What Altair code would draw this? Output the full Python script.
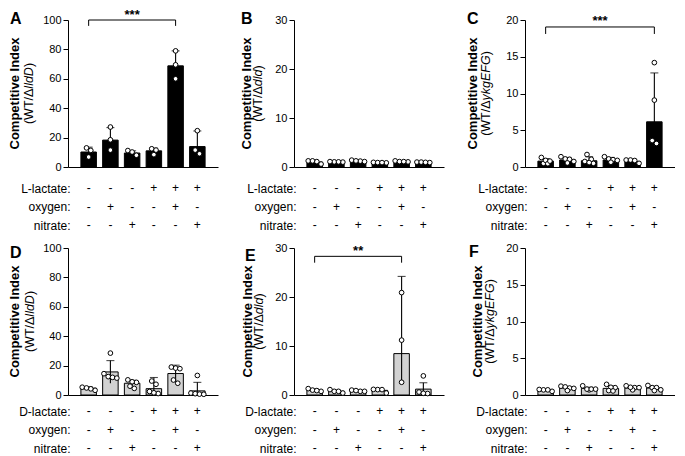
import altair as alt
import pandas as pd

FONT = "Liberation Sans, Arial, Helvetica, sans-serif"

# ---------------- data ----------------
groups = [0, 1, 2, 3, 4, 5]
cond_row1 = ["L-lactate:", "oxygen:", "nitrate:"]
cond_row2 = ["D-lactate:", "oxygen:", "nitrate:"]
lactate_sign = ["-", "-", "-", "+", "+", "+"]
oxygen_sign = ["-", "+", "-", "-", "+", "-"]
nitrate_sign = ["-", "-", "+", "-", "-", "+"]

A_mean = [10.2, 18.3, 9.5, 11.0, 68.8, 13.9]
A_hi = [13.5, 26.8, 11.0, 12.8, 79.0, 24.5]
A_lo = [7.0, 9.8, 8.0, 9.2, 58.6, 3.3]
A_pts = [[13.0, 11.3, 6.8], [27.2, 18.5, 11.5], [11.2, 10.2, 8.0],
         [12.4, 11.5, 8.4], [79.0, 69.5, 60.0], [24.7, 9.0, 11.5]]

B_mean = [1.0, 1.0, 1.2, 0.9, 1.1, 0.95]
B_hi = [1.3, 1.1, 1.4, 0.95, 1.25, 1.0]
B_lo = [0.7, 0.9, 1.0, 0.85, 0.95, 0.9]
B_pts = [[0.6, 1.1, 1.25, 1.25], [1.0, 1.05, 1.1, 1.05], [1.2, 1.4, 1.1, 1.25],
         [0.85, 0.95, 0.9, 0.9], [1.05, 1.25, 1.1, 1.1], [0.9, 1.0, 1.0, 0.95]]

C_mean = [0.8, 0.95, 0.85, 0.95, 0.75, 6.15]
C_hi = [1.15, 1.3, 1.4, 1.3, 0.95, 12.8]
C_lo = [0.45, 0.6, 0.3, 0.6, 0.55, 0.0]
C_pts = [[0.5, 0.9, 1.3, 0.45, 0.8], [1.1, 1.05, 1.4, 0.55, 0.75],
         [0.5, 1.7, 1.05, 0.75, 0.6], [1.4, 1.1, 1.0, 0.9, 0.65],
         [0.5, 0.95, 0.95, 0.88], [14.2, 9.1, 3.2, 3.6]]

D_mean = [4.6, 15.7, 8.0, 4.3, 14.6, 2.8]
D_hi = [5.6, 23.4, 10.0, 11.9, 20.3, 8.6]
D_lo = [3.6, 8.0, 6.0, 0.0, 8.9, 0.0]
D_pts = [[3.2, 5.3, 4.2, 4.8], [28.5, 14.5, 12.5, 12.0, 11.5],
         [8.6, 9.0, 10.3, 4.5, 6.0], [7.3, 9.5, 2.4, 1.0, 1.5],
         [18.3, 19.0, 17.9, 10.2, 8.0], [13.3, 1.3, 0.9, 0.6, 0.5]]

E_mean = [0.95, 0.75, 0.85, 0.95, 8.45, 1.2]
E_hi = [1.2, 1.0, 1.0, 1.15, 24.2, 2.5]
E_lo = [0.7, 0.5, 0.7, 0.75, 2.6, 0.0]
E_pts = [[0.75, 1.3, 1.0, 0.9], [0.4, 1.1, 0.75, 0.75], [0.75, 1.0, 0.9, 0.75],
         [0.4, 1.1, 1.15, 1.1], [20.9, 11.2, 2.6], [0.3, 0.6, 0.35, 3.9]]

F_mean = [0.68, 0.95, 0.9, 0.9, 0.95, 0.95]
F_hi = [0.75, 1.1, 1.05, 1.2, 1.1, 1.2]
F_lo = [0.6, 0.8, 0.75, 0.6, 0.8, 0.7]
F_pts = [[0.5, 0.7, 0.75, 0.7], [1.2, 1.1, 0.95, 0.9, 0.6],
         [1.25, 0.7, 0.8, 0.8, 0.8], [1.45, 1.0, 1.05, 0.6, 0.55],
         [1.25, 1.0, 1.0, 0.7, 1.05], [1.3, 1.0, 1.0, 0.6, 0.7]]

ticks_100 = [0, 20, 40, 60, 80, 100]
ticks_30 = [0, 10, 20, 30]
ticks_20 = [0, 5, 10, 15, 20]

# ---------------- layout / style ----------------
W, H = 150, 147
XMIN, XMAX = -0.72, 5.72
PXU = W / (XMAX - XMIN)
BAR_W = 15.5
GRAY = "#d2d2d2"

CW = {"(": 0.333, ")": 0.333, "W": 0.944, "T": 0.611, "/": 0.278, "Δ": 0.668,
      "l": 0.222, "d": 0.556, "D": 0.722, "y": 0.5, "k": 0.5, "g": 0.556,
      "E": 0.667, "F": 0.611, "G": 0.778}


def tw(s, size):
    return sum(CW.get(c, 0.55) for c in s) * size


panels = [
    dict(letter="A", mean=A_mean, hi=A_hi, lo=A_lo, pts=A_pts, ymax=100, ticks=ticks_100,
         fill="black", gene="lldD", conds=cond_row1, row=1,
         bracket=(0, 4, 100, 96, "***"), lx=-58, ly=4, t1=-53.5, t2=-39),
    dict(letter="B", mean=B_mean, hi=B_hi, lo=B_lo, pts=B_pts, ymax=30, ticks=ticks_30,
         fill="black", gene="dld", conds=cond_row1, row=1,
         bracket=None, lx=-53, ly=4, t1=-47, t2=-36),
    dict(letter="C", mean=C_mean, hi=C_hi, lo=C_lo, pts=C_pts, ymax=20, ticks=ticks_20,
         fill="black", gene="ykgEFG", conds=cond_row1, row=1,
         bracket=(0, 5, 19.05, 18.1, "***"), lx=-58, ly=4, t1=-52, t2=-39.5),
    dict(letter="D", mean=D_mean, hi=D_hi, lo=D_lo, pts=D_pts, ymax=100, ticks=ticks_100,
         fill=GRAY, gene="lldD", conds=cond_row2, row=2,
         bracket=None, lx=-58, ly=10, t1=-53.5, t2=-38),
    dict(letter="E", mean=E_mean, hi=E_hi, lo=E_lo, pts=E_pts, ymax=30, ticks=ticks_30,
         fill=GRAY, gene="dld", conds=cond_row2, row=2,
         bracket=(0, 4, 28.3, 27.0, "**"), lx=-49, ly=12.5, t1=-46, t2=-35),
    dict(letter="F", mean=F_mean, hi=F_hi, lo=F_lo, pts=F_pts, ymax=20, ticks=ticks_20,
         fill=GRAY, gene="ykgEFG", conds=cond_row2, row=2,
         bracket=None, lx=-56, ly=8.5, t1=-47, t2=-35),
]


def swarm(vals, ymax):
    pxv = [v * H / ymax for v in vals]
    order = sorted(range(len(vals)), key=lambda k: -vals[k])
    clusters = []
    for k in order:
        if clusters and len(clusters[-1]) < 4 and pxv[clusters[-1][0]] - pxv[k] < 5.0:
            clusters[-1].append(k)
        else:
            clusters.append([k])
    off = [0.0] * len(vals)
    for c in clusters:
        n = len(c)
        for j, k in enumerate(c):
            off[k] = (j - (n - 1) / 2) * 4.6 / PXU
    return off


def xenc(field):
    return alt.X(field, scale=alt.Scale(domain=[XMIN, XMAX], nice=False, zero=False),
                 axis=alt.Axis(title=None, labels=False, ticks=False, grid=False,
                               domainColor="black", domainWidth=1))


def make_panel(p):
    ymax = p["ymax"]

    def yenc(field):
        return alt.Y(field, scale=alt.Scale(domain=[0, ymax], nice=False, zero=True, clamp=True),
                     axis=alt.Axis(values=p["ticks"], title=None, grid=False, tickSize=5,
                                   tickWidth=1, tickColor="black", domainColor="black",
                                   domainWidth=1, labelColor="black", labelFontSize=11,
                                   labelFont=FONT, labelPadding=2))

    bars_df = pd.DataFrame({"idx": groups, "mean": p["mean"], "hi": p["hi"], "lo": p["lo"]})
    rows = []
    for i, vals in enumerate(p["pts"]):
        off = swarm(vals, ymax)
        for v, o in zip(vals, off):
            rows.append({"idx": i, "v": v, "xp": i + o})
    pts_df = pd.DataFrame(rows)

    bars = alt.Chart(bars_df).mark_bar(size=BAR_W, fill=p["fill"], stroke="black",
                                       strokeWidth=1).encode(x=xenc("idx:Q"), y=yenc("mean:Q"))
    err = alt.Chart(bars_df).mark_rule(color="black", strokeWidth=1.1).encode(
        x=xenc("idx:Q"), y=yenc("lo:Q"), y2="hi:Q")
    caps = alt.Chart(bars_df).mark_tick(orient="horizontal", size=8, thickness=1.1,
                                        color="black").encode(x=xenc("idx:Q"), y=yenc("hi:Q"))
    pts = alt.Chart(pts_df).mark_point(shape="circle", filled=True, fill="white", stroke="black",
                                       strokeWidth=1, size=22, opacity=1).encode(
        x=xenc("xp:Q"), y=yenc("v:Q"))
    layers = [bars, err, caps, pts]

    if p["bracket"]:
        i0, i1, lev, drop, lab = p["bracket"]
        bdf = pd.DataFrame({"x0": [i0], "x1": [i1], "lev": [lev], "xm": [(i0 + i1) / 2], "lab": [lab]})
        vdf = pd.DataFrame({"x": [i0, i1], "top": [lev, lev], "bot": [drop, drop]})
        layers.append(alt.Chart(bdf).mark_rule(color="black", strokeWidth=1).encode(
            x=xenc("x0:Q"), x2="x1:Q", y=yenc("lev:Q")))
        layers.append(alt.Chart(vdf).mark_rule(color="black", strokeWidth=1).encode(
            x=xenc("x:Q"), y=yenc("top:Q"), y2="bot:Q"))
        layers.append(alt.Chart(bdf).mark_text(dy=-1.5, baseline="alphabetic", fontSize=13,
                                               fontWeight="bold", font=FONT, color="black").encode(
            x=xenc("xm:Q"), y=yenc("lev:Q"), text="lab:N"))

    one = pd.DataFrame({"k": [0]})
    # panel letter
    layers.append(alt.Chart(one).mark_text(text=p["letter"], fontSize=16, fontWeight="bold",
                                           font=FONT, align="left", baseline="alphabetic",
                                           color="black").encode(
        x=alt.value(p["lx"]), y=alt.value(p["ly"])))
    # y title line 1
    layers.append(alt.Chart(one).mark_text(text="Competitive Index", angle=270, fontSize=13,
                                           fontWeight="bold", font=FONT, align="center",
                                           baseline="middle", color="black").encode(
        x=alt.value(p["t1"]), y=alt.value(H / 2)))
    # y title line 2 (gene name in italics)
    fs2 = 12.5
    segs = [("(WT/Δ", "normal"), (p["gene"], "italic"), (")", "normal")]
    total = sum(tw(s, fs2) for s, _ in segs)
    ypos = H / 2 + total / 2
    for s, style in segs:
        layers.append(alt.Chart(one).mark_text(text=s, angle=270, fontSize=fs2, fontStyle=style,
                                               font=FONT, align="left", baseline="middle",
                                               color="black").encode(
            x=alt.value(p["t2"]), y=alt.value(ypos)))
        ypos -= tw(s, fs2)

    inner = alt.layer(*layers)

    # condition table under the axis
    conds = p["conds"]
    trows = []
    for i in groups:
        for c, signs in zip(conds, [lactate_sign, oxygen_sign, nitrate_sign]):
            trows.append({"idx": i, "cond": c, "sym": signs[i]})
    tdf = pd.DataFrame(trows)
    off = (21, 58) if p["row"] == 1 else (16, 53)
    table = alt.Chart(tdf).mark_text(fontSize=12, font=FONT, color="black").encode(
        x=xenc("idx:Q"),
        y=alt.Y("cond:N", sort=conds,
                scale=alt.Scale(type="point", domain=conds, range=[H + off[0], H + off[1]], padding=0),
                axis=alt.Axis(orient="left", title=None, domain=False, ticks=False, tickSize=0,
                              grid=False, labelPadding=-2, labelFontSize=12, labelFont=FONT,
                              labelColor="black", labelAngle=0)),
        text="sym:N")

    return alt.layer(inner, table).resolve_scale(y="independent").properties(width=W, height=H)


charts = [make_panel(p) for p in panels]
chart = alt.concat(*charts, columns=3, spacing={"row": 11, "column": 23}).properties(
    padding={"left": 0, "top": 0, "right": 0, "bottom": 0}, background="white"
).configure_view(stroke=None)

chart.save("out.html", embed_options={"renderer": "svg", "actions": False})
